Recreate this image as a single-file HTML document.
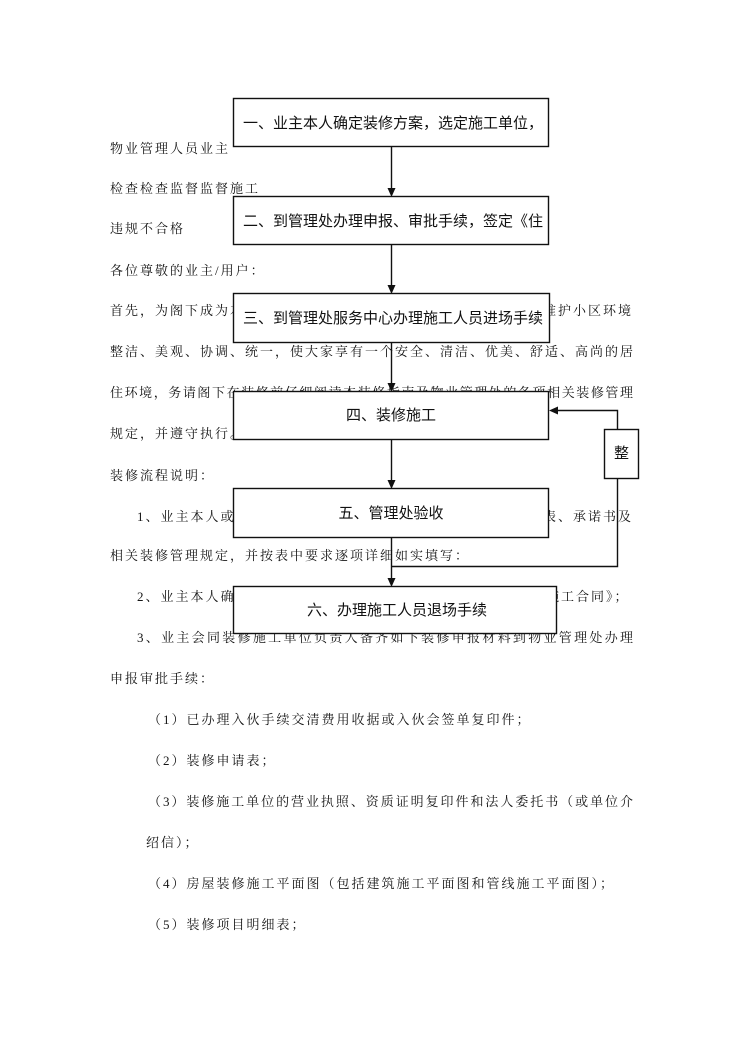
<!DOCTYPE html>
<html>
<head>
<meta charset="utf-8">
<style>
  html,body{margin:0;padding:0;background:#fff;}
  #page{position:relative;width:744px;height:1052px;overflow:hidden;background:#fff;}
  .t{position:absolute;font-family:"Liberation Serif","Noto Serif CJK SC",serif;font-size:13px;line-height:20px;height:20px;letter-spacing:2px;color:#151515;white-space:nowrap;z-index:1;}
  .j{text-align:justify;text-align-last:justify;letter-spacing:0;white-space:normal;overflow:hidden;}
  svg{position:absolute;left:0;top:0;z-index:2;}
  .b{position:absolute;font-family:"Liberation Sans","Noto Sans CJK SC",sans-serif;font-size:15px;line-height:20px;height:20px;color:#111;white-space:nowrap;z-index:3;}
</style>
</head>
<body>
<div id="page">

<!-- body text -->
<div class="t" style="left:110px;top:139px;">物业管理人员业主</div>
<div class="t" style="left:110px;top:179px;">检查检查监督监督施工</div>
<div class="t" style="left:110px;top:219px;">违规不合格</div>
<div class="t" style="left:110px;top:261px;">各位尊敬的业主/用户：</div>
<div class="t" style="left:110px;top:301px;">首先，为阁下成为本小区业主表示欢迎！为了</div>
<div class="t" style="left:543px;top:301px;">维护小区环境</div>
<div class="t j" style="left:110px;top:342px;width:523px;">整洁、美观、协调、统一，使大家享有一个安全、清洁、优美、舒适、高尚的居</div>
<div class="t j" style="left:110px;top:383px;width:523px;">住环境，务请阁下在装修前仔细阅读本装修指南及物业管理处的各项相关装修管理</div>
<div class="t" style="left:110px;top:424px;">规定，并遵守执行。</div>
<div class="t" style="left:110px;top:466px;">装修流程说明：</div>
<div class="t" style="left:137px;top:507px;">1、业主本人或委托代理人到物业</div>
<div class="t" style="left:543px;top:507px;">表、承诺书及</div>
<div class="t" style="left:110px;top:546px;">相关装修管理规定，并按表中要求逐项详细如实填写：</div>
<div class="t" style="left:137px;top:587px;">2、业主本人确认装修施工单位</div>
<div class="t" style="left:546px;top:587px;">施工合同》；</div>
<div class="t j" style="left:137px;top:628px;width:496px;">3、业主会同装修施工单位负责人备齐如下装修申报材料到物业管理处办理</div>
<div class="t" style="left:110px;top:669px;">申报审批手续：</div>
<div class="t" style="left:148px;top:710px;">（1）已办理入伙手续交清费用收据或入伙会签单复印件；</div>
<div class="t" style="left:148px;top:751px;">（2）装修申请表；</div>
<div class="t j" style="left:148px;top:792px;width:485px;">（3）装修施工单位的营业执照、资质证明复印件和法人委托书（或单位介</div>
<div class="t" style="left:146px;top:833px;">绍信）；</div>
<div class="t" style="left:148px;top:874px;">（4）房屋装修施工平面图（包括建筑施工平面图和管线施工平面图）；</div>
<div class="t" style="left:148px;top:915px;">（5）装修项目明细表；</div>

<!-- diagram shapes -->
<svg width="744" height="1052" viewBox="0 0 744 1052">
  <g fill="#fff" stroke="#111" stroke-width="1.4">
    <rect x="233.5" y="98.5" width="315" height="48"/>
    <rect x="233.5" y="196.5" width="315" height="48"/>
    <rect x="233.5" y="293.5" width="316" height="49"/>
    <rect x="233.5" y="391.5" width="315" height="48"/>
    <rect x="233.5" y="488.5" width="315" height="49"/>
    <rect x="233.5" y="586.5" width="323" height="47"/>
    <rect x="604.5" y="429.5" width="34" height="49"/>
  </g>
  <g stroke="#111" stroke-width="1.4" fill="none">
    <line x1="391.5" y1="147" x2="391.5" y2="189"/>
    <line x1="391.5" y1="245" x2="391.5" y2="286"/>
    <line x1="391.5" y1="343" x2="391.5" y2="384"/>
    <line x1="391.5" y1="440" x2="391.5" y2="481"/>
    <line x1="391.5" y1="538" x2="391.5" y2="579"/>
    <polyline points="391.5,566.5 617.5,566.5 617.5,479"/>
    <polyline points="617.5,429 617.5,410.5 557,410.5"/>
  </g>
  <g fill="#111">
    <polygon points="387.5,188 395.5,188 391.5,197"/>
    <polygon points="387.5,285 395.5,285 391.5,294"/>
    <polygon points="387.5,383 395.5,383 391.5,392"/>
    <polygon points="387.5,480 395.5,480 391.5,489"/>
    <polygon points="387.5,578 395.5,578 391.5,587"/>
    <polygon points="549,410.5 558,406.5 558,414.5"/>
  </g>
</svg>

<!-- box labels -->
<div class="b" style="left:243px;top:114px;">一、业主本人确定装修方案，选定施工单位，</div>
<div class="b" style="left:243px;top:212px;">二、到管理处办理申报、审批手续，签定《住</div>
<div class="b" style="left:243px;top:309px;">三、到管理处服务中心办理施工人员进场手续</div>
<div class="b" style="left:233px;width:316px;text-align:center;top:406px;">四、装修施工</div>
<div class="b" style="left:233px;width:316px;text-align:center;top:504px;">五、管理处验收</div>
<div class="b" style="left:235px;width:324px;text-align:center;top:601px;">六、办理施工人员退场手续</div>
<div class="b" style="left:604px;width:35px;text-align:center;top:444px;">整</div>

</div>
</body>
</html>
